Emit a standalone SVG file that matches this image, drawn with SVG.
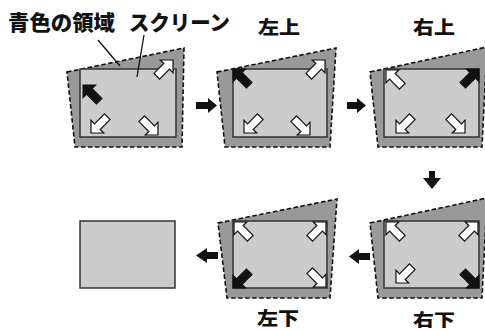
<svg xmlns="http://www.w3.org/2000/svg" xmlns:xlink="http://www.w3.org/1999/xlink" width="485" height="332" viewBox="0 0 485 332">
<style>
.area{fill:#999;stroke:#111;stroke-width:1.6;stroke-dasharray:4.5 2.5}
.scr{fill:#ccc;stroke:#333;stroke-width:1.5}
.wa{fill:#fff;stroke:#111;stroke-width:1.2;stroke-linejoin:miter}
.ba{fill:#111;stroke:#111;stroke-width:1}
.lbl{font-family:"Noto Sans CJK JP","Noto Sans",sans-serif;font-weight:900;fill:#111}
.lead{stroke:#111;stroke-width:1.3;fill:none}
.conn{fill:#111}
</style>
<defs>
<path id="ca" d="M0,0 L-9,-9 L-9,-4 L-23,-4 L-23,4 L-9,4 L-9,9 Z"/>
</defs>

<g id="label-blue-area">
<text class="lbl" x="8" y="30" font-size="21" textLength="107" lengthAdjust="spacingAndGlyphs">青色の領域</text>
</g>
<g id="label-screen">
<text class="lbl" x="129" y="30" font-size="21" textLength="101" lengthAdjust="spacingAndGlyphs">スクリーン</text>
</g>

<g id="panel-initial">
<polygon class="area" points="67,72 184,48 182,147 75,147"/>
<rect class="scr" x="80" y="69" width="96" height="68"/>
<use xlink:href="#ca" class="ba" transform="translate(83,85) rotate(225)"/>
<use xlink:href="#ca" class="wa" transform="translate(173,60) rotate(-45)"/>
<use xlink:href="#ca" class="wa" transform="translate(91,133) rotate(135)"/>
<use xlink:href="#ca" class="wa" transform="translate(158,135) rotate(45)"/>
</g>

<g id="panel-top-left">
<text class="lbl" x="258" y="34" font-size="18" textLength="42" lengthAdjust="spacingAndGlyphs">左上</text>
<polygon class="area" points="217,72 336,48 330,147 225,147"/>
<rect class="scr" x="233" y="69" width="94" height="68"/>
<use xlink:href="#ca" class="ba" transform="translate(233,69) rotate(225)"/>
<use xlink:href="#ca" class="wa" transform="translate(325,60) rotate(-45)"/>
<use xlink:href="#ca" class="wa" transform="translate(244,133) rotate(135)"/>
<use xlink:href="#ca" class="wa" transform="translate(310,135) rotate(45)"/>
</g>

<g id="panel-top-right">
<text class="lbl" x="413" y="34" font-size="18" textLength="42" lengthAdjust="spacingAndGlyphs">右上</text>
<polygon class="area" points="370,72 487,47 482,147 378,147"/>
<rect class="scr" x="384" y="69" width="95" height="68"/>
<use xlink:href="#ca" class="wa" transform="translate(386,70) rotate(225)"/>
<use xlink:href="#ca" class="ba" transform="translate(479,69) rotate(-45)"/>
<use xlink:href="#ca" class="wa" transform="translate(396,133) rotate(135)"/>
<use xlink:href="#ca" class="wa" transform="translate(465,133) rotate(45)"/>
</g>

<g id="panel-bottom-right">
<text class="lbl" x="413" y="326" font-size="17" textLength="42" lengthAdjust="spacingAndGlyphs">右下</text>
<polygon class="area" points="370,223 487,198 482,298 378,298"/>
<rect class="scr" x="384" y="221" width="95" height="67"/>
<use xlink:href="#ca" class="wa" transform="translate(386,222) rotate(225)"/>
<use xlink:href="#ca" class="wa" transform="translate(478,222) rotate(-45)"/>
<use xlink:href="#ca" class="wa" transform="translate(396,283) rotate(135)"/>
<use xlink:href="#ca" class="ba" transform="translate(479,288) rotate(45)"/>
</g>

<g id="panel-bottom-left">
<text class="lbl" x="257" y="325" font-size="18" textLength="42" lengthAdjust="spacingAndGlyphs">左下</text>
<polygon class="area" points="218,223 337,199 330,298 227,298"/>
<rect class="scr" x="233" y="221" width="94" height="67"/>
<use xlink:href="#ca" class="wa" transform="translate(234,222) rotate(225)"/>
<use xlink:href="#ca" class="wa" transform="translate(326,222) rotate(-45)"/>
<use xlink:href="#ca" class="ba" transform="translate(233,288) rotate(135)"/>
<use xlink:href="#ca" class="wa" transform="translate(326,287) rotate(45)"/>
</g>

<g id="panel-final">
<rect class="scr" x="80" y="221" width="95" height="67"/>
</g>

<g id="connectors">
<line class="lead" x1="98" y1="40" x2="120" y2="66"/>
<line class="lead" x1="144" y1="35" x2="137" y2="77"/>
<polygon class="conn" points="196,102 208,102 208,98 217,105.5 208,113 208,109 196,109"/>
<polygon class="conn" points="347,102 357,102 357,98 366,105.5 357,113 357,109 347,109"/>
<polygon class="conn" points="429,171 435,171 435,178 441,178 432,189 423,178 429,178"/>
<polygon class="conn" points="370,253 359,253 359,249 349,256.5 359,264 359,260 370,260"/>
<polygon class="conn" points="218,252 207,252 207,248 196,255.5 207,263 207,259 218,259"/>
</g>
</svg>
